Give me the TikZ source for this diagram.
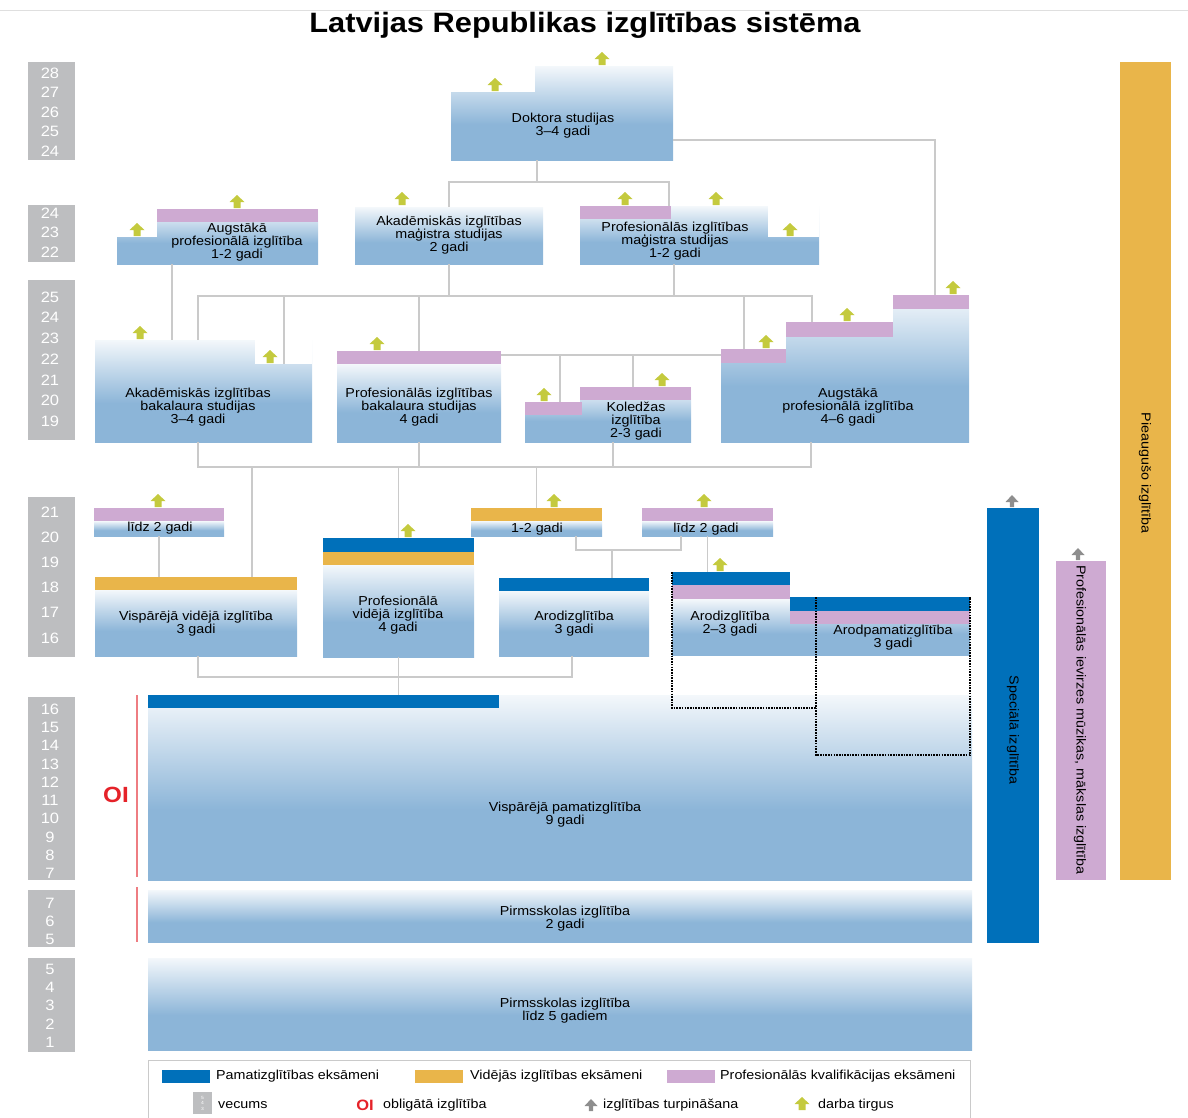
\documentclass[tikz,border=0pt]{standalone}
\usepackage{fontspec}
\setmainfont{Liberation Sans}[FakeStretch=1.1]

\definecolor{boxblue}{HTML}{8CB5D8}
\definecolor{pamblue}{HTML}{0070BA}
\definecolor{vidorange}{HTML}{E9B54A}
\definecolor{profpink}{HTML}{CEAAD2}
\definecolor{agegray}{HTML}{BDBEC0}
\definecolor{jobgreen}{HTML}{C4CA3E}
\definecolor{contgray}{HTML}{8E8E8E}
\definecolor{linegray}{HTML}{CACACA}
\definecolor{oired}{HTML}{E52229}
\definecolor{oiline}{HTML}{EE7D82}

\pgfdeclareverticalshading{boxfade}{100bp}{color(0bp)=(boxblue); color(25bp)=(boxblue); color(44bp)=(boxblue); color(75bp)=(boxblue!10); color(100bp)=(boxblue!10)}

\newcommand\boxfont{\fontsize{13}{13}\selectfont}
\newcommand\titlefont{\bfseries\fontsize{28}{28}\selectfont}
\newcommand\agefont{\fontsize{15}{15}\selectfont}
\newcommand\sidefont{\fontsize{13}{13}\selectfont}
\newcommand\legfont{\fontsize{13}{13}\selectfont}
\newcommand\oifont{\bfseries\fontsize{22}{22}\selectfont}
\newcommand\keyfont{\fontsize{4.5}{5.5}\selectfont}

\tikzset{
  darba/.pic={\fill[jobgreen] (0,0) -- (-3.5,0) -- (-3.5,-6) -- (-7.5,-6) -- (0,-13) -- (7.5,-6) -- (3.5,-6) -- (3.5,0) -- cycle;},
  turp/.pic={\fill[contgray] (0,0) -- (-2.2,0) -- (-2.2,-5) -- (-6.5,-5) -- (0,-12) -- (6.5,-5) -- (2.2,-5) -- (2.2,0) -- cycle;}
}

\begin{document}
\begin{tikzpicture}[x=1pt, y=-1pt,
    box/.style={shade, shading=boxfade, anchor=north west, inner sep=0pt, outer sep=0pt},
    band/.style={anchor=north west, inner sep=0pt, outer sep=0pt},
    notch/.style={fill=white},
    lbl/.style={align=center, inner sep=0pt, font=\boxfont},
    conn/.style={draw=linegray, line width=1.3pt},
    agebox/.style={fill=agegray, anchor=north west, inner sep=0pt, minimum width=47},
    agenum/.style={text=white, inner sep=0pt, font=\agefont},
    dotframe/.style={draw=black, line width=2.6pt, dash pattern=on 1.6pt off 1.1pt},
    legtxt/.style={anchor=west, inner sep=0pt, font=\legfont}]

  \useasboundingbox (0,0) rectangle (1188,1117);

  % title
  \draw[linegray!60, line width=0.8pt] (0,10) -- (1188,10);
  \node[font=\titlefont] (title) at (585,25) {Latvijas Republikas izglītības sistēma};

  % age columns
  \node[agebox, minimum height=98] (age1) at (28,62) {};
  \foreach \a [count=\i from 0] in {28,27,26,25,24}
    \node[agenum] (age1-\a) at (50,73+19.5*\i) {\a};
  \node[agebox, minimum height=57] (age2) at (28,205) {};
  \foreach \a [count=\i from 0] in {24,23,22}
    \node[agenum] (age2-\a) at (50,213+19.5*\i) {\a};
  \node[agebox, minimum height=160] (age3) at (28,280) {};
  \foreach \a [count=\i from 0] in {25,24,23,22,21,20,19}
    \node[agenum] (age3-\a) at (50,297+20.7*\i) {\a};
  \node[agebox, minimum height=160] (age4) at (28,497) {};
  \foreach \a [count=\i from 0] in {21,20,19,18,17,16}
    \node[agenum] (age4-\a) at (50,512+25.2*\i) {\a};
  \node[agebox, minimum height=183] (age5) at (28,697) {};
  \foreach \a [count=\i from 0] in {16,15,14,13,12,11,10,9,8,7}
    \node[agenum] (age5-\a) at (50,709+18.3*\i) {\a};
  \node[agebox, minimum height=57] (age6) at (28,890) {};
  \foreach \a [count=\i from 0] in {7,6,5}
    \node[agenum] (age6-\a) at (50,903+18*\i) {\a};
  \node[agebox, minimum height=94] (age7) at (28,958) {};
  \foreach \a [count=\i from 0] in {5,4,3,2,1}
    \node[agenum] (age7-\a) at (50,969+18.3*\i) {\a};

  % doctoral studies
  \node[box, minimum width=222, minimum height=94] (dok) at (451,66) {};
  \fill[notch] (dok.north west) rectangle (535,92);

  % master level
  \node[box, minimum width=201, minimum height=55] (ap12) at (117,209) {};
  \fill[notch] (ap12.north west) rectangle (157,237);
  \node[band, fill=profpink, minimum width=161, minimum height=13] (ap12b) at (157,209) {};
  \node[box, minimum width=188, minimum height=57] (amag) at (355,207) {};
  \node[box, minimum width=239, minimum height=58] (pmag) at (580,206) {};
  \fill[notch] (pmag.north east) rectangle (768,237);
  \node[band, fill=profpink, minimum width=91, minimum height=13] (pmagb) at (580,206) {};

  % bachelor level
  \node[box, minimum width=217, minimum height=102] (abak) at (95,340) {};
  \fill[notch] (abak.north east) rectangle (255,364);
  \coordinate (abak-notch) at (255,364);
  \node[box, minimum width=164, minimum height=78] (pbak) at (337,364) {};
  \node[band, fill=profpink, minimum width=164, minimum height=13] (pbakb) at (337,351) {};
  \node[box, minimum width=166, minimum height=55] (kol) at (525,387) {};
  \fill[notch] (kol.north west) rectangle (580,402);
  \node[band, fill=profpink, minimum width=57, minimum height=13] (kolb1) at (525,402) {};
  \node[band, fill=profpink, minimum width=111, minimum height=13] (kolb2) at (580,387) {};
  \node[box, minimum width=248, minimum height=147] (aug) at (721,295) {};
  \fill[notch] (aug.north west) rectangle (893,322);
  \fill[notch] (721,322) rectangle (786,349);
  \node[band, fill=profpink, minimum width=65, minimum height=14] (augb1) at (721,349) {};
  \node[band, fill=profpink, minimum width=107, minimum height=15] (augb2) at (786,322) {};
  \node[band, fill=profpink, minimum width=76, minimum height=14] (augb3) at (893,295) {};

  % secondary level
  \node[band, fill=profpink, minimum width=130, minimum height=13] (lidzAb) at (94,508) {};
  \node[box, minimum width=130, minimum height=15] (lidzA) at (94,521) {};
  \node[band, fill=vidorange, minimum width=202, minimum height=13] (vvidb) at (95,577) {};
  \node[box, minimum width=202, minimum height=66] (vvid) at (95,590) {};
  \node[band, fill=pamblue, minimum width=151, minimum height=14] (pvidb1) at (323,538) {};
  \node[band, fill=vidorange, minimum width=151, minimum height=13] (pvidb2) at (323,552) {};
  \node[box, minimum width=151, minimum height=92] (pvid) at (323,565) {};
  \node[band, fill=vidorange, minimum width=131, minimum height=13] (g12b) at (471,508) {};
  \node[box, minimum width=131, minimum height=15] (g12) at (471,521) {};
  \node[band, fill=profpink, minimum width=131, minimum height=13] (lidzBb) at (642,508) {};
  \node[box, minimum width=131, minimum height=15] (lidzB) at (642,521) {};
  \node[band, fill=pamblue, minimum width=150, minimum height=13] (arod3b) at (499,578) {};
  \node[box, minimum width=150, minimum height=65] (arod3) at (499,591) {};
  \node[band, fill=pamblue, minimum width=118, minimum height=13] (arod23b1) at (672,572) {};
  \node[band, fill=profpink, minimum width=118, minimum height=14] (arod23b2) at (672,585) {};
  \node[box, minimum width=118, minimum height=56] (arod23) at (672,599) {};
  \node[box, minimum width=180, minimum height=56] (arodp) at (790,599) {};
  \node[band, fill=pamblue, minimum width=180, minimum height=14] (arodpb1) at (790,597) {};
  \node[band, fill=profpink, minimum width=180, minimum height=13] (arodpb2) at (790,611) {};

  % basic and preschool
  \node[box, minimum width=824, minimum height=185] (pam) at (148,695) {};
  \node[band, fill=pamblue, minimum width=351, minimum height=13] (pamb) at (148,695) {};
  \node[box, minimum width=824, minimum height=52] (pirm2) at (148,890) {};
  \node[box, minimum width=824, minimum height=92] (pirm5) at (148,958) {};

  % side bars
  \node[band, fill=pamblue, minimum width=52, minimum height=435] (spec) at (987,508) {};
  \node[band, fill=profpink, minimum width=50, minimum height=319] (iev) at (1056,561) {};
  \node[band, fill=vidorange, minimum width=51, minimum height=818] (pieaug) at (1120,62) {};

  % connectors
  \coordinate (t1) at (537,182);
  \coordinate (t2) at (669,182);
  \coordinate (t3) at (935,140);
  \draw[conn] (t1 |- dok.south) -- (t1);
  \draw[conn] (amag.north) |- (t2) -- (t2 |- pmagb.north);
  \draw[conn] (dok.east |- t3) -- (t3) -- (t3 |- augb3.north);

  \coordinate (m1) at (172,300);
  \coordinate (b1) at (198,296);
  \coordinate (b2) at (812,296);
  \coordinate (m2) at (674,296);
  \coordinate (m3) at (284,296);
  \coordinate (m5) at (744,296);
  \draw[conn] (m1 |- ap12.south) -- (m1 |- abak.north);
  \draw[conn] (b1 |- abak.north) -- (b1) -- (b2) -- (b2 |- augb2.north);
  \draw[conn] (amag.south) -- (amag.south |- b1);
  \draw[conn] (m2 |- pmag.south) -- (m2);
  \draw[conn] (m3) -- (m3 |- abak-notch);
  \draw[conn] (pbakb.north) -- (pbakb.north |- b1);
  \draw[conn] (m5) -- (m5 |- augb1.north);

  \coordinate (k1) at (560,355);
  \coordinate (k2) at (633,355);
  \draw[conn] (pbak.east |- k1) -- (aug.west |- k1);
  \draw[conn] (k1) -- (k1 |- kolb1.north);
  \draw[conn] (k2) -- (k2 |- kolb2.north);

  \coordinate (c1) at (198,467);
  \coordinate (c2) at (811,467);
  \coordinate (c3) at (252,467);
  \coordinate (c4) at (613,467);
  \draw[conn] (c1 |- abak.south) -- (c1) -- (c2) -- (c2 |- aug.south);
  \draw[conn] (pbak.south) -- (pbak.south |- c1);
  \draw[conn] (c4 |- kol.south) -- (c4);
  \draw[conn] (c3) -- (c3 |- vvidb.north);
  \draw[conn] (pvidb1.north) -- (pvidb1.north |- c1);
  \draw[conn] (g12b.north) -- (g12b.north |- c1);

  \coordinate (e1) at (576,550);
  \coordinate (e2) at (681,550);
  \coordinate (e3) at (612,550);
  \draw[conn] (lidzA.south) -- (lidzA.south |- vvidb.north);
  \draw[conn] (e1 |- g12.south) -- (e1) -- (e2) -- (e2 |- lidzB.south);
  \draw[conn] (e3) -- (e3 |- arod3b.north);
  \draw[conn] (lidzB.south) -- (lidzB.south |- arod23b1.north);

  \coordinate (f1) at (198,677);
  \coordinate (f2) at (572,677);
  \draw[conn] (f1 |- vvid.south) -- (f1) -- (f2) -- (f2 |- arod3.south);
  \draw[conn] (pvid.south) -- (pvid.south |- pamb.north);

  % labour market and further study arrows
  \foreach \x/\y in {495/91, 602/65, 137/236, 237/208, 402/205, 625/205, 716/205, 790/236,
                     140/339, 270/363, 377/350, 544/401, 662/386, 766/348, 847/321, 953/294,
                     158/507, 408/537, 554/507, 704/507, 720/571}
    \pic at (\x,\y) {darba};
  \pic at (1012,507) {turp};
  \pic at (1078,560) {turp};

  % dotted frames
  \coordinate (dot1) at (816,708);
  \coordinate (dot2a) at (816,597);
  \coordinate (dot2b) at (970,755);
  \draw[dotframe] (arod23b1.north west) |- (dot1);
  \draw[dotframe] (dot2a) |- (dot2b) -- (arodpb1.north east);

  % compulsory education
  \draw[oiline, line width=1.5pt] (pam.north west) ++(-11,0) -- ++(0,182);
  \draw[oiline, line width=1.5pt] (pirm2.north west) ++(-11,-3) -- ++(0,55);
  \node[text=oired, font=\oifont, inner sep=0pt] (oi) at (116,795) {OI};

  % labels
  \node[lbl] (dok-t) at (563,126) {Doktora studijas\\3--4 gadi};
  \node[lbl] (ap12-t) at (237,242) {Augstākā\\profesionālā izglītība\\1-2 gadi};
  \node[lbl] (amag-t) at (449,235) {Akadēmiskās izglītības\\maģistra studijas\\2 gadi};
  \node[lbl] (pmag-t) at (675,241) {Profesionālās izglītības\\maģistra studijas\\1-2 gadi};
  \node[lbl] (abak-t) at (198,407) {Akadēmiskās izglītības\\bakalaura studijas\\3--4 gadi};
  \node[lbl] (pbak-t) at (419,407) {Profesionālās izglītības\\bakalaura studijas\\4 gadi};
  \node[lbl] (kol-t) at (636,421) {Koledžas\\izglītība\\2-3 gadi};
  \node[lbl] (aug-t) at (848,407) {Augstākā\\profesionālā izglītība\\4--6 gadi};
  \node[lbl] (lidzA-t) at (160,528) {līdz 2 gadi};
  \node[lbl] (vvid-t) at (196,624) {Vispārējā vidējā izglītība\\3 gadi};
  \node[lbl] (pvid-t) at (398,615) {Profesionālā\\vidējā izglītība\\4 gadi};
  \node[lbl] (g12-t) at (537,529) {1-2 gadi};
  \node[lbl] (lidzB-t) at (706,529) {līdz 2 gadi};
  \node[lbl] (arod3-t) at (574,624) {Arodizglītība\\3 gadi};
  \node[lbl] (arod23-t) at (730,624) {Arodizglītība\\2--3 gadi};
  \node[lbl] (arodp-t) at (893,638) {Arodpamatizglītība\\3 gadi};
  \node[lbl] (pam-t) at (565,815) {Vispārējā pamatizglītība\\9 gadi};
  \node[lbl] (pirm2-t) at (565,919) {Pirmsskolas izglītība\\2 gadi};
  \node[lbl] (pirm5-t) at (565,1011) {Pirmsskolas izglītība\\līdz 5 gadiem};
  \node[lbl, rotate=-90, font=\sidefont] (spec-t) at (1013,730) {Speciālā izglītība};
  \node[lbl, rotate=-90, font=\sidefont] (iev-t) at (1080,720) {Profesionālās ievirzes mūzikas, mākslas izglītība};
  \node[lbl, rotate=-90, font=\sidefont] (pieaug-t) at (1145,473) {Pieaugušo izglītība};

  % legend
  \node[band, draw=linegray, line width=1pt, minimum width=822, minimum height=70] (legend) at (148,1060) {};
  \node[band, fill=pamblue, minimum width=48, minimum height=13] (key1) at (162,1070) {};
  \node[legtxt] (key1-t) at (216,1076) {Pamatizglītības eksāmeni};
  \node[band, fill=vidorange, minimum width=48, minimum height=13] (key2) at (415,1070) {};
  \node[legtxt] (key2-t) at (470,1076) {Vidējās izglītības eksāmeni};
  \node[band, fill=profpink, minimum width=48, minimum height=13] (key3) at (667,1070) {};
  \node[legtxt] (key3-t) at (720,1076) {Profesionālās kvalifikācijas eksāmeni};
  \node[band, fill=agegray, minimum width=19, minimum height=22, align=center, text=white, font=\keyfont] (key4) at (193,1092) {5\\4\\3};
  \node[legtxt] (key4-t) at (218,1105) {vecums};
  \node[text=oired, font=\bfseries\fontsize{15}{15}\selectfont, inner sep=0pt] (key5) at (365,1105) {OI};
  \node[legtxt] (key5-t) at (383,1105) {obligātā izglītība};
  \pic at (591,1111) {turp};
  \node[legtxt] (key6-t) at (603,1105) {izglītības turpināšana};
  \pic at (802,1110) {darba};
  \node[legtxt] (key7-t) at (818,1105) {darba tirgus};

\end{tikzpicture}
\end{document}
